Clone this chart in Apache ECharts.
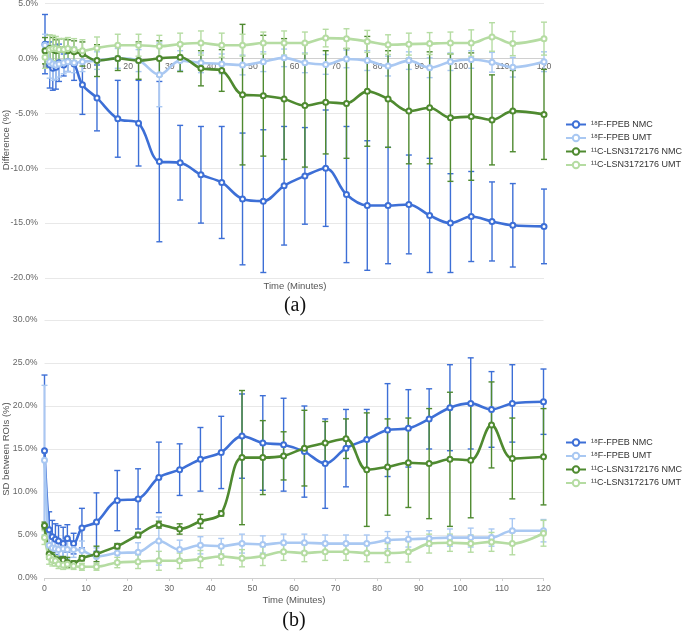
<!DOCTYPE html>
<html>
<head>
<meta charset="utf-8">
<script src="https://cdn.jsdelivr.net/npm/echarts@6/dist/echarts.min.js"></script>
<style>
html,body{margin:0;padding:0;background:#fff;}
#chart{width:682px;height:632px;}
</style>
</head>
<body>
<div id="chart"></div>
<script>
// Time points (minutes)
const times = [0, 1.125, 1.875, 2.625, 3.375, 4.5, 5.5, 7, 9, 12.5, 17.5, 22.5, 27.5, 32.5, 37.5, 42.5, 47.5, 52.5, 57.5, 62.5, 67.5, 72.5, 77.5, 82.5, 87.5, 92.5, 97.5, 102.5, 107.5, 112.5, 120];
const seriesNames = ['\u00B9\u2078F-FPEB NMC', '\u00B9\u2078F-FPEB UMT', '\u00B9\u00B9C-LSN3172176 NMC', '\u00B9\u00B9C-LSN3172176 UMT'];
const xTicks = [0, 10, 20, 30, 40, 50, 60, 70, 80, 90, 100, 110, 120];
const axisTitles = ['Difference (%)', 'SD between ROIs (%)', 'Time (Minutes)'];
const panelLabels = ['(a)', '(b)'];

// (a) Difference (%)
const diffFpebNmc = [1.3, -0.6, -0.9, -0.8, -0.4, -0.6, -0.3, -0.5, -2.4, -3.6, -5.5, -5.9, -9.4, -9.5, -10.6, -11.3, -12.8, -13.0, -11.6, -10.7, -10.0, -12.4, -13.4, -13.4, -13.3, -14.3, -15.0, -14.4, -14.85, -15.2, -15.3];
const diffFpebNmcErr = [2.7, 2.1, 2.0, 2.0, 1.7, 1.0, 0.9, 1.5, 2.7, 3.0, 3.5, 3.9, 7.3, 3.4, 4.4, 5.1, 6.0, 6.5, 5.4, 4.4, 5.3, 6.2, 5.9, 5.3, 4.5, 5.2, 4.5, 4.1, 3.6, 3.8, 3.4];
const diffFpebUmt = [1.2, -0.3, -0.5, -0.6, -0.5, -0.4, -0.3, -0.4, -0.3, -0.2, 0.0, -0.2, -1.5, -0.2, -0.4, -0.5, -0.6, -0.3, 0.05, -0.4, -0.55, -0.05, -0.2, -0.7, -0.2, -0.85, -0.3, -0.1, -0.35, -0.8, -0.3];
const diffFpebUmtErr = [1.0, 1.5, 1.5, 1.3, 1.2, 1.0, 0.9, 0.9, 0.9, 0.8, 0.9, 1.0, 2.9, 0.9, 0.9, 0.9, 0.9, 0.9, 0.8, 0.9, 0.9, 0.8, 0.9, 0.9, 0.8, 0.9, 0.8, 0.8, 0.9, 0.9, 0.9];
const diffLsnNmc = [0.7, 0.9, 0.8, 0.7, 0.8, 0.8, 0.7, 0.6, 0.4, -0.2, 0.0, -0.2, 0.0, 0.1, -0.9, -1.1, -3.3, -3.4, -3.7, -4.3, -4.0, -4.1, -3.0, -3.7, -4.8, -4.5, -5.4, -5.3, -5.6, -4.8, -5.1];
const diffLsnNmcErr = [1.2, 1.2, 1.1, 1.0, 1.0, 1.0, 1.0, 1.0, 1.1, 1.45, 1.1, 1.7, 1.6, 1.3, 1.6, 1.9, 6.4, 5.5, 5.5, 5.6, 4.7, 5.0, 5.0, 4.4, 4.8, 5.1, 5.8, 5.8, 4.1, 3.7, 4.1];
const diffLsnUmt = [0.1, 0.8, 0.9, 0.9, 0.8, 0.8, 0.9, 0.8, 0.7, 0.95, 1.2, 1.2, 1.1, 1.3, 1.4, 1.2, 1.2, 1.4, 1.4, 1.4, 1.85, 1.8, 1.55, 1.25, 1.3, 1.35, 1.4, 1.4, 1.95, 1.35, 1.8];
const diffLsnUmtErr = [1.0, 1.3, 1.2, 1.1, 1.0, 1.0, 1.0, 1.0, 1.0, 1.0, 1.0, 1.0, 1.0, 1.0, 1.1, 1.1, 1.0, 1.0, 1.1, 1.0, 0.8, 0.9, 1.0, 0.9, 1.0, 1.0, 1.0, 1.2, 1.3, 1.1, 1.5];

// (b) SD between ROIs (%)
const sdFpebNmc = [14.8, 5.6, 4.8, 4.5, 4.3, 4.0, 4.6, 4.0, 5.8, 6.5, 9.0, 9.2, 11.7, 12.6, 13.8, 14.6, 16.5, 15.7, 15.5, 14.7, 13.3, 15.1, 16.1, 17.2, 17.4, 18.5, 19.8, 20.3, 19.6, 20.3, 20.5];
const sdFpebNmcErr = [8.8, 2.1, 1.9, 1.8, 1.8, 1.9, 1.6, 1.2, 2.3, 3.4, 3.5, 3.5, 4.1, 3.0, 3.7, 4.2, 4.9, 5.5, 5.4, 5.3, 5.2, 4.5, 3.5, 5.4, 4.5, 3.5, 5.0, 5.3, 4.4, 4.5, 3.8];
const sdFpebUmt = [13.7, 3.8, 3.5, 3.4, 3.3, 3.4, 3.3, 3.3, 3.2, 2.5, 2.9, 3.0, 4.3, 3.3, 3.8, 3.7, 4.0, 3.9, 4.1, 4.1, 4.0, 4.0, 4.0, 4.4, 4.5, 4.6, 4.7, 4.7, 4.7, 5.5, 5.5];
const sdFpebUmtErr = [8.7, 1.3, 1.2, 1.1, 1.1, 1.0, 1.0, 0.9, 1.1, 1.0, 1.1, 1.1, 2.8, 1.1, 1.0, 0.9, 1.1, 1.0, 1.0, 1.0, 1.0, 1.0, 1.0, 1.0, 0.9, 0.9, 1.0, 1.1, 1.0, 1.4, 1.3];
const sdLsnNmc = [6.1, 2.8, 2.5, 2.1, 2.0, 2.1, 1.8, 1.7, 2.3, 2.8, 3.7, 5.0, 6.2, 5.7, 6.6, 7.5, 14.0, 14.0, 14.2, 15.1, 15.7, 16.2, 12.6, 12.9, 13.4, 13.3, 13.8, 13.7, 17.8, 13.9, 14.1];
const sdLsnNmcErr = [0.4, 0.6, 0.5, 0.4, 0.4, 0.4, 0.6, 0.3, 0.3, 0.9, 0.3, 0.3, 0.4, 0.6, 0.8, 0.3, 7.8, 4.3, 2.8, 4.4, 2.5, 2.3, 6.6, 5.6, 5.2, 6.4, 7.8, 6.7, 5.0, 4.7, 5.6];
const sdLsnUmt = [4.7, 2.4, 2.1, 2.0, 1.6, 1.5, 1.6, 1.4, 1.3, 1.3, 1.8, 1.9, 2.0, 2.0, 2.2, 2.5, 2.3, 2.55, 3.05, 2.9, 3.05, 3.05, 2.9, 2.9, 3.05, 4.0, 4.1, 4.0, 4.2, 4.0, 5.2];
const sdLsnUmtErr = [0.8, 0.8, 0.7, 0.6, 0.5, 0.5, 0.5, 0.4, 0.4, 0.4, 0.6, 0.8, 1.1, 0.9, 1.0, 1.0, 1.0, 1.1, 1.0, 1.0, 1.0, 1.0, 1.0, 1.1, 1.2, 1.1, 1.0, 1.0, 1.1, 1.3, 1.5];

const colors = ['#3d6fd6', '#a9c8f2', '#4f8a30', '#b5dca2'];

const chart = echarts.init(document.getElementById('chart'), null, {renderer: 'canvas'});

function lineSeries(name, vals, color, idx) {
  return {
    name: name, type: 'line', xAxisIndex: idx, yAxisIndex: idx,
    data: times.map((t, i) => [t, vals[i]]),
    smooth: 0.35, symbol: 'emptyCircle', symbolSize: 5,
    lineStyle: {color: color, width: 2.6},
    itemStyle: {color: color, borderWidth: 1},
    z: 3
  };
}
function errSeries(name, vals, errs, color, idx) {
  return {
    name: name, type: 'custom', xAxisIndex: idx, yAxisIndex: idx,
    data: times.map((t, i) => [t, vals[i] - errs[i], vals[i] + errs[i]]),
    encode: {x: 0, y: [1, 2]},
    z: 2,
    renderItem: function (params, api) {
      const x = api.value(0);
      const p1 = api.coord([x, api.value(2)]);
      const p2 = api.coord([x, api.value(1)]);
      const w = 3;
      const st = {stroke: color, lineWidth: 1.4, fill: null};
      return {type: 'group', children: [
        {type: 'line', shape: {x1: p1[0], y1: p1[1], x2: p2[0], y2: p2[1]}, style: st},
        {type: 'line', shape: {x1: p1[0] - w, y1: p1[1], x2: p1[0] + w, y2: p1[1]}, style: st},
        {type: 'line', shape: {x1: p2[0] - w, y1: p2[1], x2: p2[0] + w, y2: p2[1]}, style: st}
      ]};
    }
  };
}

const diffVals = [diffFpebNmc, diffFpebUmt, diffLsnNmc, diffLsnUmt];
const diffErrs = [diffFpebNmcErr, diffFpebUmtErr, diffLsnNmcErr, diffLsnUmtErr];
const sdVals = [sdFpebNmc, sdFpebUmt, sdLsnNmc, sdLsnUmt];
const sdErrs = [sdFpebNmcErr, sdFpebUmtErr, sdLsnNmcErr, sdLsnUmtErr];

const series = [];
for (let k = 0; k < 4; k++) series.push(lineSeries(seriesNames[k], diffVals[k], colors[k], 0));
for (let k = 0; k < 4; k++) series.push(lineSeries(seriesNames[k], sdVals[k], colors[k], 1));
for (let k = 0; k < 4; k++) series.push(errSeries(seriesNames[k], diffVals[k], diffErrs[k], colors[k], 0));
for (let k = 0; k < 4; k++) series.push(errSeries(seriesNames[k], sdVals[k], sdErrs[k], colors[k], 1));

const FONT = 'Liberation Sans, Arial, sans-serif';
const labelStyle = {color: '#666', fontSize: 8.7, fontFamily: FONT};
const pctFmt = v => v.toFixed(1) + '%';
const xTickFmt = v => (xTicks.indexOf(v) >= 0 ? String(v) : '');

function xAxisCfg(idx, offset) {
  return {
    type: 'value', gridIndex: idx, min: 0, max: 120, interval: 10,
    position: 'bottom', offset: offset,
    axisLine: {show: true, onZero: false, lineStyle: {color: '#d0d0d0', width: 1}},
    axisTick: {show: idx === 1, length: 3, lineStyle: {color: '#d0d0d0'}},
    axisLabel: Object.assign({margin: idx === 0 ? 4 : 6, formatter: xTickFmt}, labelStyle),
    splitLine: {show: false}
  };
}
function yAxisCfg(idx, min, max) {
  return {
    type: 'value', gridIndex: idx, min: min, max: max, interval: 5,
    axisLine: {show: false, onZero: false}, axisTick: {show: false},
    axisLabel: Object.assign({formatter: pctFmt, margin: 7}, labelStyle),
    splitLine: {lineStyle: {color: '#e8e8e8', width: 1}}
  };
}
function legendCfg(top) {
  return {
    data: seriesNames, orient: 'vertical', left: 565, top: top, padding: 0,
    itemWidth: 20, itemHeight: 8, itemGap: 4.5,
    textStyle: {color: '#333', fontSize: 9, fontFamily: FONT},
    selectedMode: false
  };
}
function txt(text, x, y, font, fill, rot) {
  return {type: 'text', x: x, y: y, rotation: rot || 0,
    style: {text: text, x: 0, y: 0, align: 'center', verticalAlign: 'middle', fill: fill, font: font}};
}

const option = {
  backgroundColor: '#fff',
  animation: false,
  grid: [
    {left: 45, top: 3.5, width: 499, height: 274.5, outerBoundsMode: 'none', containLabel: false},
    {left: 44.5, top: 320, width: 499, height: 258, outerBoundsMode: 'none', containLabel: false}
  ],
  xAxis: [xAxisCfg(0, -219.6), xAxisCfg(1, 0)],
  yAxis: [yAxisCfg(0, -20, 5), yAxisCfg(1, 0, 30)],
  legend: [legendCfg(120), legendCfg(438)],
  graphic: [
    txt(axisTitles[0], 6, 140, '9.5px ' + FONT, '#555', Math.PI / 2),
    txt(axisTitles[1], 6, 449, '9.5px ' + FONT, '#555', Math.PI / 2),
    txt(axisTitles[2], 295, 286, '9.5px ' + FONT, '#555'),
    txt(panelLabels[0], 295, 306, '20px Liberation Serif, Times New Roman, serif', '#111'),
    txt(axisTitles[2], 294, 600, '9.5px ' + FONT, '#555'),
    txt(panelLabels[1], 294, 621, '20px Liberation Serif, Times New Roman, serif', '#111')
  ],
  series: series
};
chart.setOption(option);
</script>
</body>
</html>
